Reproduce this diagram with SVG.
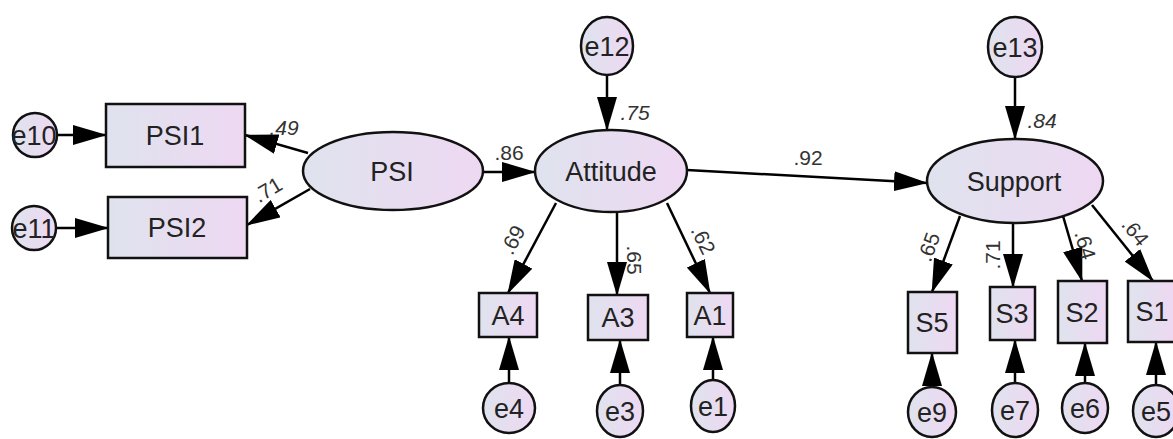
<svg xmlns="http://www.w3.org/2000/svg" width="1173" height="439" viewBox="0 0 1173 439">
<defs>
<linearGradient id="g" x1="0" y1="0" x2="1" y2="0">
<stop offset="0" stop-color="#dfe3ee"/>
<stop offset="1" stop-color="#eed8f2"/>
</linearGradient>
<marker id="ah" markerUnits="userSpaceOnUse" markerWidth="34" markerHeight="20" refX="33" refY="10" orient="auto">
<path d="M0,0 L34,10 L0,20 Z" fill="#000"/>
</marker>
</defs>
<style>
.n{fill:url(#g);stroke:#111;stroke-width:2.5}
.t{font-family:"Liberation Sans",Arial,sans-serif;font-size:27px;fill:#222;text-anchor:middle}
.c line{stroke:#000;stroke-width:2.5;marker-end:url(#ah)}
.l{font-family:"Liberation Sans",Arial,sans-serif;font-size:21px;fill:#333;text-anchor:middle}
.i{font-style:italic}
</style>
<rect width="1173" height="439" fill="#fff"/>
<g class="c" id="connectors">
<line x1="57" y1="135" x2="106" y2="135"/>
<line x1="56" y1="228" x2="108" y2="228"/>
<line x1="308" y1="153" x2="245" y2="135"/>
<line x1="310" y1="189" x2="247" y2="225"/>
<line x1="483" y1="172" x2="535" y2="172"/>
<line x1="607" y1="75" x2="607" y2="130"/>
<line x1="687" y1="170" x2="927" y2="183"/>
<line x1="1015" y1="77" x2="1015" y2="139"/>
<line x1="556" y1="203" x2="508" y2="293"/>
<line x1="617" y1="212" x2="617" y2="295"/>
<line x1="667" y1="203" x2="710" y2="293"/>
<line x1="960" y1="216" x2="932" y2="292"/>
<line x1="1013" y1="223" x2="1013" y2="287"/>
<line x1="1063" y1="216" x2="1082" y2="281"/>
<line x1="1092" y1="205" x2="1153" y2="281"/>
<line x1="509" y1="383" x2="509" y2="337"/>
<line x1="620" y1="385" x2="620" y2="340"/>
<line x1="713" y1="380" x2="713" y2="337"/>
<line x1="932" y1="387" x2="932" y2="353"/>
<line x1="1015" y1="383" x2="1015" y2="340"/>
<line x1="1085" y1="383" x2="1085" y2="343"/>
<line x1="1156" y1="385" x2="1156" y2="342"/>
</g>
<g id="labels">
<text class="l i" x="284" y="135">.49</text>
<text class="l" transform="translate(268,190) rotate(-31)" y="7">.71</text>
<text class="l" x="509" y="160">.86</text>
<text class="l i" x="635" y="120">.75</text>
<text class="l" x="808" y="165">.92</text>
<text class="l i" x="1042" y="128">.84</text>
<text class="l" transform="translate(513,240) rotate(-62)" y="7">.69</text>
<text class="l" transform="translate(634,260) rotate(90)" y="7">.65</text>
<text class="l" transform="translate(703,240) rotate(64)" y="7">.62</text>
<text class="l" transform="translate(929,247) rotate(-70)" y="7">.65</text>
<text class="l" transform="translate(993,255) rotate(-90)" y="7">.71</text>
<text class="l" transform="translate(1085,245) rotate(74)" y="7">.64</text>
<text class="l" transform="translate(1135,232) rotate(51)" y="7">.64</text>
</g>
<g id="e10"><ellipse class="n" cx="35" cy="135" rx="22" ry="22"/><text class="t" x="34" y="145">e10</text></g>
<g id="PSI1"><rect class="n" x="106" y="104" width="139" height="63"/><text class="t" x="175" y="145">PSI1</text></g>
<g id="e11"><ellipse class="n" cx="34" cy="228" rx="22" ry="22"/><text class="t" x="34" y="238">e11</text></g>
<g id="PSI2"><rect class="n" x="108" y="197" width="139" height="61"/><text class="t" x="177" y="237">PSI2</text></g>
<g id="PSI"><ellipse class="n" cx="393" cy="171" rx="90" ry="39"/><text class="t" x="392" y="181">PSI</text></g>
<g id="Attitude"><ellipse class="n" cx="611" cy="171" rx="76" ry="41"/><text class="t" x="611" y="181">Attitude</text></g>
<g id="e12"><ellipse class="n" cx="607" cy="46" rx="26" ry="29"/><text class="t" x="607" y="56">e12</text></g>
<g id="Support"><ellipse class="n" cx="1015" cy="181" rx="88" ry="42"/><text class="t" x="1014" y="191">Support</text></g>
<g id="e13"><ellipse class="n" cx="1015" cy="47" rx="27" ry="30"/><text class="t" x="1015" y="57">e13</text></g>
<g id="A4"><rect class="n" x="479" y="293" width="58" height="44"/><text class="t" x="508" y="325">A4</text></g>
<g id="A3"><rect class="n" x="588" y="295" width="60" height="45"/><text class="t" x="618" y="327">A3</text></g>
<g id="A1"><rect class="n" x="687" y="293" width="46" height="44"/><text class="t" x="710" y="325">A1</text></g>
<g id="e4"><ellipse class="n" cx="509" cy="408" rx="26" ry="25"/><text class="t" x="509" y="418">e4</text></g>
<g id="e3"><ellipse class="n" cx="620" cy="411" rx="23" ry="26"/><text class="t" x="620" y="421">e3</text></g>
<g id="e1"><ellipse class="n" cx="713" cy="406" rx="22" ry="26"/><text class="t" x="713" y="416">e1</text></g>
<g id="S5"><rect class="n" x="908" y="292" width="49" height="61"/><text class="t" x="932" y="332">S5</text></g>
<g id="S3"><rect class="n" x="990" y="287" width="45" height="53"/><text class="t" x="1012" y="323">S3</text></g>
<g id="S2"><rect class="n" x="1058" y="281" width="49" height="62"/><text class="t" x="1082" y="322">S2</text></g>
<g id="S1"><rect class="n" x="1128" y="281" width="49" height="61"/><text class="t" x="1152" y="321">S1</text></g>
<g id="e9"><ellipse class="n" cx="932" cy="412" rx="24" ry="25"/><text class="t" x="932" y="422">e9</text></g>
<g id="e7"><ellipse class="n" cx="1015" cy="410" rx="23" ry="27"/><text class="t" x="1015" y="420">e7</text></g>
<g id="e6"><ellipse class="n" cx="1085" cy="408" rx="23" ry="25"/><text class="t" x="1085" y="418">e6</text></g>
<g id="e5"><ellipse class="n" cx="1156" cy="411" rx="23" ry="26"/><text class="t" x="1156" y="421">e5</text></g>
</svg>
